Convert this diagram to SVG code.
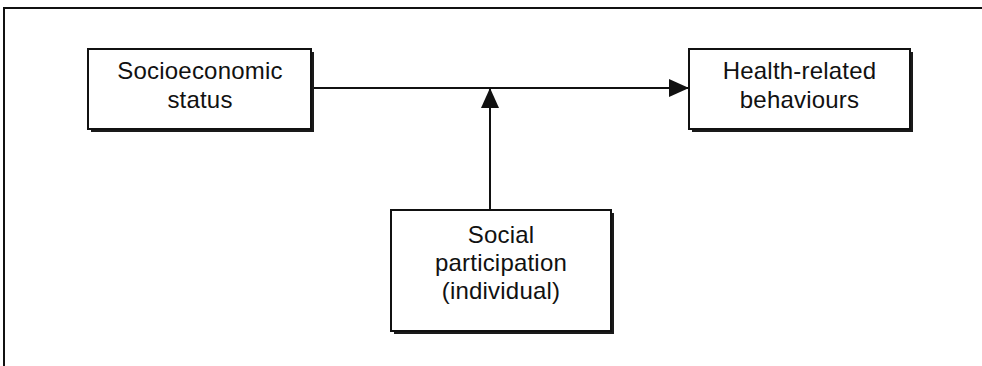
<svg xmlns="http://www.w3.org/2000/svg" width="982" height="366" viewBox="0 0 982 366">
<defs>
<style>
.shadow{fill:#1a1a1a;}
.box{fill:#fff;stroke:#111;stroke-width:2;}
.lbl{font-family:"Liberation Sans",Arial,sans-serif;font-size:24px;letter-spacing:0.2px;fill:#111;text-anchor:middle;}
.conn{stroke:#111;stroke-width:2;fill:none;}
</style>
<marker id="arr" markerWidth="20" markerHeight="18" refX="20" refY="9" orient="auto" markerUnits="userSpaceOnUse">
<path d="M0,0 L20,9 L0,18 Z" fill="#111"/>
</marker>
</defs>
<rect width="982" height="366" fill="#fff"/>
<g id="frame">
<path d="M4,366 L4,8 L982,8" fill="none" stroke="#111" stroke-width="2"/>
</g>
<g id="connectors">
<line class="conn" x1="311" y1="88" x2="689" y2="88" marker-end="url(#arr)"/>
<line class="conn" x1="490" y1="210" x2="490" y2="88" marker-end="url(#arr)"/>
</g>
<g id="node-ses">
<rect class="shadow" x="91" y="52" width="223" height="80"/>
<rect class="box" x="88" y="49" width="223" height="80"/>
<text class="lbl" x="200" y="79">Socioeconomic</text>
<text class="lbl" x="200" y="108">status</text>
</g>
<g id="node-health">
<rect class="shadow" x="692" y="52" width="221" height="80"/>
<rect class="box" x="689" y="49" width="221" height="80"/>
<text class="lbl" x="799.5" y="79">Health-related</text>
<text class="lbl" x="799.5" y="108">behaviours</text>
</g>
<g id="node-social">
<rect class="shadow" x="394" y="213" width="220" height="121"/>
<rect class="box" x="391" y="210" width="220" height="121"/>
<text class="lbl" x="501" y="243">Social</text>
<text class="lbl" x="501" y="271">participation</text>
<text class="lbl" x="501" y="299">(individual)</text>
</g>
</svg>
